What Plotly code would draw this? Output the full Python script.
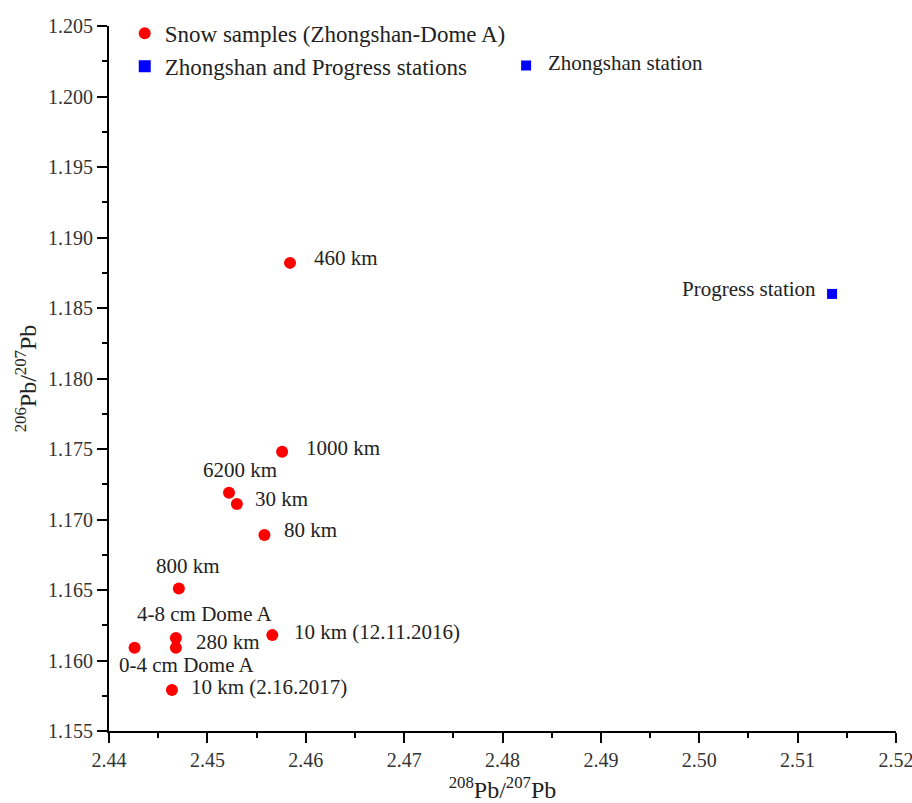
import plotly.graph_objects as go

# Snow samples
snow_labels = ["460 km", "1000 km", "6200 km", "30 km", "80 km", "800 km",
               "4-8 cm Dome A", "280 km", "0-4 cm Dome A",
               "10 km (12.11.2016)", "10 km (2.16.2017)"]
snow_x = [2.4584, 2.4576, 2.4522, 2.4530, 2.4558, 2.4471,
          2.4468, 2.4468, 2.4426, 2.4566, 2.4464]
snow_y = [1.1882, 1.1748, 1.1719, 1.1711, 1.1689, 1.1651,
          1.1616, 1.1609, 1.1609, 1.1618, 1.1579]
# label placement: (xanchor, xshift, yshift)
snow_pos = [("left", 22, 5), ("left", 22, 4), ("center", 11, 23), ("left", 16, 5),
            ("left", 18, 5), ("center", 9, 23), ("center", 29, 24), ("left", 18, 6),
            ("center", 52, -17), ("left", 20, 3), ("left", 17, 3)]

# Stations
station_labels = ["Progress station", "Zhongshan station"]
station_x = [2.5135, 2.4824]
station_y = [1.1860, 1.2022]
station_pos = [("right", -14, 5), ("left", 20, 2)]

xticks = [2.44, 2.45, 2.46, 2.47, 2.48, 2.49, 2.50, 2.51, 2.52]
yticks = [1.155, 1.160, 1.165, 1.170, 1.175, 1.180, 1.185, 1.190, 1.195, 1.200, 1.205]

FONT = "Liberation Serif, Times New Roman, serif"

fig = go.Figure()
fig.add_trace(go.Scatter(x=snow_x, y=snow_y, mode="markers",
                         name="Snow samples (Zhongshan-Dome A)",
                         marker=dict(color="#ff0000", size=12, symbol="circle")))
fig.add_trace(go.Scatter(x=station_x, y=station_y, mode="markers",
                         name="Zhongshan and Progress stations",
                         marker=dict(color="#0000ff", size=10, symbol="square")))

annotations = []
for lab, x, y, (xa, xs, ys) in zip(snow_labels + station_labels,
                                    snow_x + station_x, snow_y + station_y,
                                    snow_pos + station_pos):
    annotations.append(dict(x=x, y=y, text=lab, showarrow=False, xanchor=xa,
                            yanchor="middle", xshift=xs, yshift=ys,
                            font=dict(family=FONT, size=21, color="#222222")))

axis_common = dict(showline=True, linecolor="black", linewidth=2, mirror=False,
                   ticks="outside", ticklen=10, tickwidth=2, tickcolor="black",
                   showgrid=False, zeroline=False, automargin=False,
                   ticklabeloverflow="allow",
                   tickfont=dict(family=FONT, size=20, color="#333333"))

fig.update_xaxes(range=[2.44, 2.52], tickvals=xticks, tickformat=".2f",
                 minor=dict(ticks="outside", ticklen=5, tickwidth=2, tickcolor="black", dtick=0.005),
                 title=dict(text="<sup>208</sup>Pb/<sup>207</sup>Pb",
                            font=dict(family=FONT, size=24, color="#222222"), standoff=12),
                 **axis_common)
fig.update_yaxes(range=[1.155, 1.205], tickvals=yticks, tickformat=".3f",
                 minor=dict(ticks="outside", ticklen=5, tickwidth=2, tickcolor="black", dtick=0.0025),
                 title=dict(text="<sup>206</sup>Pb/<sup>207</sup>Pb",
                            font=dict(family=FONT, size=24, color="#222222"), standoff=5),
                 **axis_common)

fig.update_layout(width=912, height=803, plot_bgcolor="white", paper_bgcolor="white",
                  margin=dict(l=109, r=16, t=24, b=72),
                  annotations=annotations,
                  legend=dict(x=0.02, y=1.02, xanchor="left", yanchor="top",
                              bgcolor="rgba(0,0,0,0)", tracegroupgap=0,
                              font=dict(family=FONT, size=23, color="#222222"),
                              itemsizing="constant"))

fig.write_html("out.html")
